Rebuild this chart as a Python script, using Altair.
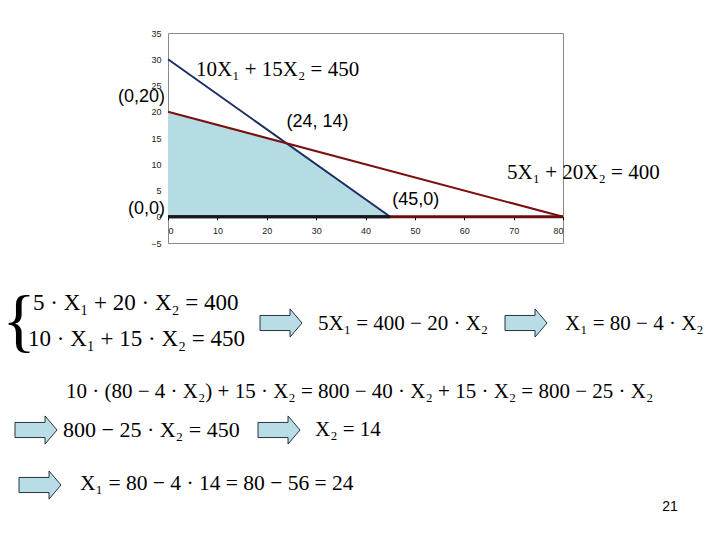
import altair as alt
import pandas as pd

# ---------------- data ----------------
# constraint 1: 10X1 + 15X2 = 450
c1_x = [0, 45]
c1_y = [30, 0]
# constraint 2: 5X1 + 20X2 = 400
c2_x = [0, 80]
c2_y = [20, 0]
# feasible region upper boundary
region_x = [0, 24, 45]
region_y = [20, 14, 0]
# x2 = 0 boundary
base_red_x = [0, 80]
base_dark_x = [0, 45]

x_ticks = [0, 10, 20, 30, 40, 50, 60, 70, 80]
y_ticks = [-5, 0, 5, 10, 15, 20, 25, 30, 35]

vertex_labels = ["(0,20)", "(24, 14)", "(0,0)", "(45,0)"]
vertex_x = [0, 24, 0, 45]
vertex_y = [20, 14, 0, 0]

eq_c1 = "10X\u2081 + 15X\u2082 = 450"
eq_c2 = "5X\u2081 + 20X\u2082 = 400"

sys_line1 = "5 \u00b7 X\u2081 + 20 \u00b7 X\u2082 = 400"
sys_line2 = "10 \u00b7 X\u2081 + 15 \u00b7 X\u2082 = 450"
step1 = "5X\u2081 = 400 \u2212 20 \u00b7 X\u2082"
step2 = "X\u2081 = 80 \u2212 4 \u00b7 X\u2082"
step3 = ("10 \u00b7 (80 \u2212 4 \u00b7 X\u2082) + 15 \u00b7 X\u2082 = 800 \u2212 40 \u00b7 X\u2082"
         " + 15 \u00b7 X\u2082 = 800 \u2212 25 \u00b7 X\u2082")
step4 = "800 \u2212 25 \u00b7 X\u2082 = 450"
step5 = "X\u2082 = 14"
step6 = "X\u2081 = 80 \u2212 4 \u00b7 14 = 80 \u2212 56 = 24"
page_no = "21"

# ---------------- layout helpers ----------------
PX0, PY0 = 168, 33          # top-left of plot area on the slide
W, H = 395, 210
SERIF = "Liberation Serif"
SANS = "Liberation Sans"

xs = alt.Scale(domain=[0, 80], nice=False, zero=False)
ys = alt.Scale(domain=[-5, 35], nice=False, zero=False)
x_axis = alt.Axis(values=x_ticks, title=None, offset=-26.25, domain=False,
                  ticks=True, tickSize=3, tickColor="#000000", grid=False,
                  labelFont=SANS, labelFontSize=9, labelColor="#222222",
                  labelPadding=7, labelAngle=0)
y_axis = alt.Axis(values=y_ticks, title=None, domain=False, ticks=False,
                  grid=False, labelFont=SANS, labelFontSize=9,
                  labelColor="#222222", labelPadding=7)


def X(field="x"):
    return alt.X(f"{field}:Q", scale=xs, axis=x_axis)


def Y(field="y"):
    return alt.Y(f"{field}:Q", scale=ys, axis=y_axis)


region_df = pd.DataFrame({"x": region_x, "y": region_y, "y0": [0] * len(region_x)})
area = alt.Chart(region_df).mark_area(color="#b5dbe3", opacity=1).encode(
    x=X(), y=Y(), y2="y0:Q")

c1 = alt.Chart(pd.DataFrame({"x": c1_x, "y": c1_y})).mark_line(
    color="#1b2f63", strokeWidth=2).encode(x=X(), y=Y())
c2 = alt.Chart(pd.DataFrame({"x": c2_x, "y": c2_y})).mark_line(
    color="#7a1010", strokeWidth=2).encode(x=X(), y=Y())
base_red = alt.Chart(pd.DataFrame({"x": base_red_x, "y": [0, 0]})).mark_line(
    color="#6e0c0c", strokeWidth=3).encode(x=X(), y=Y())
base_dark = alt.Chart(pd.DataFrame({"x": base_dark_x, "y": [0, 0]})).mark_line(
    color="#0d1a24", strokeWidth=3).encode(x=X(), y=Y())

layers = [area, c1, c2, base_red, base_dark]

# vertex labels anchored to data points
offsets = [(-3, -15, "right"), (0, -21, "left"), (-3, -8, "right"), (2, -17, "left")]
for lab, vx, vy, (dx, dy, al) in zip(vertex_labels, vertex_x, vertex_y, offsets):
    layers.append(
        alt.Chart(pd.DataFrame({"x": [vx], "y": [vy], "t": [lab]})).mark_text(
            font=SANS, fontSize=18, align=al, baseline="middle", dx=dx, dy=dy,
            color="#000000").encode(x=X(), y=Y(), text="t:N"))

# constraint equation labels anchored to line end points
layers.append(
    alt.Chart(pd.DataFrame({"x": [c1_x[0]], "y": [c1_y[0]], "t": [eq_c1]})).mark_text(
        font=SERIF, fontSize=21, align="left", baseline="middle", dx=28, dy=11,
        color="#000000").encode(x=X(), y=Y(), text="t:N"))
layers.append(
    alt.Chart(pd.DataFrame({"x": [c2_x[1]], "y": [c2_y[1]], "t": [eq_c2]})).mark_text(
        font=SERIF, fontSize=21, align="left", baseline="middle", dx=-56, dy=-44,
        color="#000000").encode(x=X(), y=Y(), text="t:N"))


def slide_text(s, x, y, size=21, font=SERIF, align="left"):
    return alt.Chart(pd.DataFrame({"t": [s]})).mark_text(
        font=font, fontSize=size, align=align, baseline="middle",
        color="#000000").encode(
        x=alt.value(x - PX0), y=alt.value(y - PY0), text="t:N")


ARROW = "M -1 -0.36 L 0.43 -0.36 L 0.43 -0.67 L 1 0 L 0.43 0.67 L 0.43 0.36 L -1 0.36 Z"


def arrow(cx, cy):
    return alt.Chart(pd.DataFrame({"a": [0]})).mark_point(
        shape=ARROW, size=42 * 42, filled=True, fill="#b9dde6", fillOpacity=1,
        stroke="#26323c", strokeWidth=1, opacity=1).encode(
        x=alt.value(cx - PX0), y=alt.value(cy - PY0))


layers += [
    slide_text("{", 19, 323, size=70, align="center"),
    slide_text(sys_line1, 33, 303, size=23),
    slide_text(sys_line2, 28, 339, size=23),
    arrow(281, 323),
    slide_text(step1, 318, 324),
    arrow(526, 323),
    slide_text(step2, 565, 324),
    slide_text(step3, 66, 392),
    arrow(36, 430),
    slide_text(step4, 63, 430, size=22),
    arrow(279, 430),
    slide_text(step5, 315, 430),
    arrow(40, 485),
    slide_text(step6, 80, 484, size=21.5),
    slide_text(page_no, 670, 507, size=14, font=SANS, align="center"),
]

chart = alt.layer(*layers).properties(
    width=W, height=H,
    padding={"left": PX0 - 8, "top": PY0 - 8, "right": 700 - (PX0 - 8) - W,
             "bottom": 520 - (PY0 - 8) - H},
    autosize=alt.AutoSizeParams(type="none"),
    background="#ffffff",
).configure_view(stroke="#8a8a8a", strokeWidth=1)

chart.save("out.html", embed_options={"renderer": "svg", "actions": False})
